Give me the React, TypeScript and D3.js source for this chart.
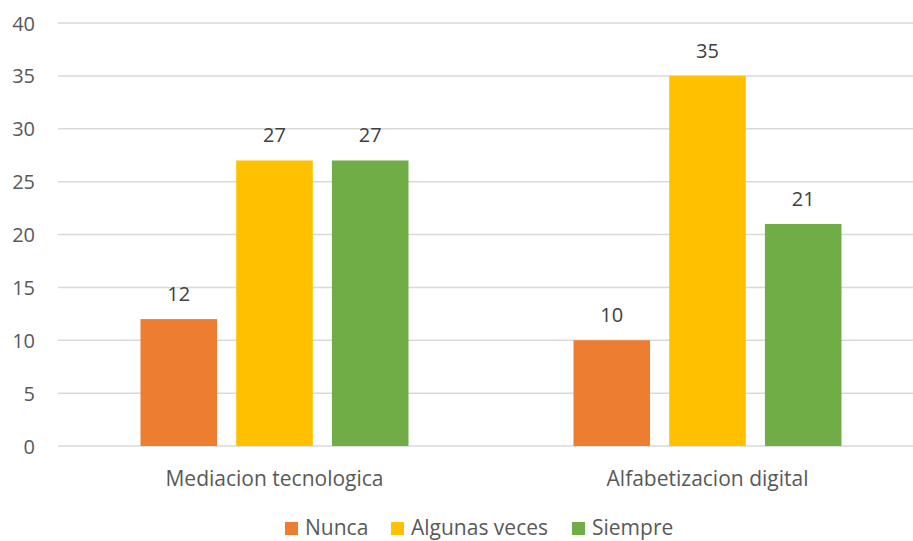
import React, { useEffect, useRef } from "react";
import * as d3 from "d3";

const categories = ["Mediacion tecnologica", "Alfabetizacion digital"];
const seriesNames = ["Nunca", "Algunas veces", "Siempre"];
const seriesColors = ["#ED7D31", "#FFC000", "#70AD47"];
const nunca = [12, 10];
const algunasVeces = [27, 35];
const siempre = [27, 21];
const yTicks = [0, 5, 10, 15, 20, 25, 30, 35, 40];

export default function App() {
  const svgRef = useRef<SVGSVGElement>(null);

  useEffect(() => {
    if (!svgRef.current) return;
    const width = 913;
    const height = 541;
    const svg = d3.select(svgRef.current);
    svg.selectAll("*").remove();
    svg.attr("width", width).attr("height", height);

    const font = "'Open Sans', sans-serif";
    const fs = "20px";
    const fsCat = "21px";
    const values = [nunca, algunasVeces, siempre];

    const x = d3.scaleBand().domain(categories).range([58, 924]);
    const sub = d3.scaleBand().domain(seriesNames).range([0, 268]).paddingInner(0.2);
    const y = d3.scaleLinear().domain([0, 40]).range([446, 23]);

    // grid lines
    svg.append("g")
      .selectAll("line")
      .data(yTicks)
      .join("line")
      .attr("x1", 58)
      .attr("x2", width)
      .attr("y1", (d) => y(d))
      .attr("y2", (d) => y(d))
      .style("stroke", "#d9d9d9")
      .style("stroke-width", 1.5);

    // y tick labels
    svg.append("g")
      .selectAll("text")
      .data(yTicks)
      .join("text")
      .attr("x", 35)
      .attr("y", (d) => y(d) + 7.5)
      .attr("text-anchor", "end")
      .style("font-family", font)
      .style("font-size", fs)
      .style("fill", "#595959")
      .text((d) => d);

    // bars
    categories.forEach((cat, ci) => {
      const gx = x(cat)! + x.bandwidth() / 2 - 134;
      seriesNames.forEach((s, si) => {
        const v = values[si][ci];
        const bx = gx + sub(s)!;
        svg.append("rect")
          .attr("x", bx)
          .attr("y", y(v))
          .attr("width", sub.bandwidth())
          .attr("height", y(0) - y(v))
          .style("fill", seriesColors[si]);
        svg.append("text")
          .attr("x", bx + sub.bandwidth() / 2)
          .attr("y", y(v) - 18)
          .attr("text-anchor", "middle")
          .style("font-family", font)
          .style("font-size", fs)
          .style("fill", "#404040")
          .text(v);
      });
    });

    // category labels
    svg.append("g")
      .selectAll("text")
      .data(categories)
      .join("text")
      .attr("x", (d) => x(d)! + x.bandwidth() / 2)
      .attr("y", 486)
      .attr("text-anchor", "middle")
      .style("font-family", font)
      .style("font-size", fsCat)
      .style("fill", "#595959")
      .text((d) => d);

    // legend
    const legendX = [285, 391, 572];
    seriesNames.forEach((s, i) => {
      svg.append("rect")
        .attr("x", legendX[i])
        .attr("y", 522)
        .attr("width", 13)
        .attr("height", 13)
        .style("fill", seriesColors[i]);
      svg.append("text")
        .attr("x", legendX[i] + 20)
        .attr("y", 535)
        .style("font-family", font)
        .style("font-size", fsCat)
        .style("fill", "#595959")
        .text(s);
    });
  }, []);

  return <svg ref={svgRef} style={{ position: "absolute", left: 0, top: 0 }} />;
}
